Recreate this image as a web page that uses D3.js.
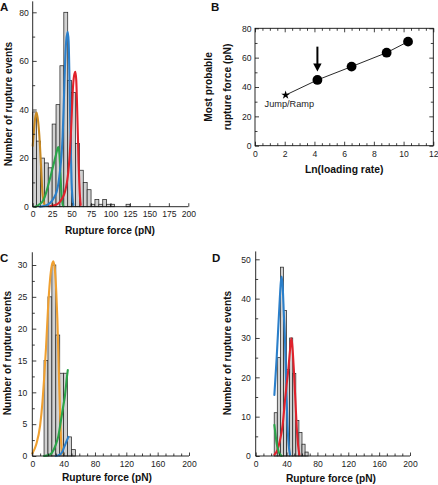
<!DOCTYPE html>
<html><head><meta charset="utf-8">
<script src="https://cdn.jsdelivr.net/npm/d3@7"></script>
<style>
body{margin:0;background:#fff}
svg{display:block}
text{font-family:"Liberation Sans",Arial,Helvetica,sans-serif}
</style>
</head><body>
<svg id="chart" width="438" height="485"></svg>
<script>
// ---------------- DATA ----------------
// Panel A histogram (5 pN bins starting at 0)
const histAStart = 0, histABin = 5;
const histA = [39, 27, 20, 18, 16, 34, 42, 58, 80, 52, 47, 26, 15, 10, 7, 1, 3, 1, 3, 1, 1, 0, 0, 0, 1];
// Panel A fitted curves [force pN, events]
const curveAOrange = [[0,25],[1.5,31],[3,36],[5,38.7],[7,35],[9,27],[10.5,18],[11.5,11.5],[12.5,6],[13.7,2.7],[15,1],[16,0.3]];
const curveAGreen = [[3,0],[8,0.8],[13.7,2.7],[17,5.5],[20,8.9],[23,12.5],[26.5,17],[30,21.5],[33,24.5],[34.5,21],[35.5,15],[36.5,8],[37.5,3.5],[38.5,1],[39.5,0.2]];
const curveABlue = [[9.4,0],[16,0.4],[22,1.4],[27,3.5],[30.8,6.2],[33,9.5],[35,14.4],[37,21],[38.5,29],[40.2,45],[41.5,58],[43,68],[45,72],[46.2,68],[47.3,52],[48.3,34],[49.1,22],[50,10],[51,4],[52.2,0.7]];
const curveARed = [[22,0.2],[30,0.8],[35,2],[38.5,3.8],[41.5,6.2],[44,10],[45.8,14.4],[47.5,21],[48.8,28],[50.2,38],[51.4,47],[53,53.5],[54.8,55.5],[56,52],[57,42],[58.2,28],[59,18],[59.9,10],[61,3],[61.7,0.7]];

// Panel B: most probable rupture force vs ln(loading rate)
const bStar = [2.06, 34.5];               // Jump/Ramp point
const bLnRate = [4.2, 6.5, 8.86, 10.3];
const bForce = [44.8, 53.9, 63.4, 70.9];
const bArrow = {x: 4.2, from: 67.5, to: 50.5};
const bStarLabel = "Jump/Ramp";

// Panel C histogram (5 pN bins starting at 15)
const histCStart = 15, histCBin = 5;
const histC = [15, 25, 30, 19, 13, 13, 3, 1];
const curveCOrange = [[0,0.4],[5,1.8],[10,4.8],[13,8.5],[15,12],[17.5,17],[20,23],[22.5,27.5],[25,30],[27,30.6],[29,29],[30.5,26],[32,21.5],[33.5,15],[34.5,10.5],[35.5,6.5],[36.5,3],[37.5,1.2],[38.5,0.4]];
const curveCGreen = [[15,0],[20,0.1],[25,0.5],[30,1.8],[33,3],[35.3,4.6],[38,6.7],[40,8.2],[41.7,9.5],[43,11],[44,12.2],[45.3,13.5]];
const curveCBlue = [[30,0],[35,0.2],[38,0.6],[41,1.5],[43,2.1],[45,2.7],[46,3]];

// Panel D histogram (4 pN bins starting at 24)
const histDStart = 24, histDBin = 4;
const histD = [11, 25, 48, 37, 22, 30, 21, 9, 6, 3, 1];
const curveDBlue = [[24.2,15.5],[27.2,25],[30.7,38],[32.5,44],[33.7,45.6],[35,43],[36.5,36],[38,29.5],[39,22],[40.2,14.2],[41.2,8],[42.3,4],[43.5,1.5],[44.5,0.3]];
const curveDRed = [[24.2,0.3],[28,1.5],[31.5,4],[35,8],[38,14.2],[40,18],[42.3,22],[44.5,27],[46.2,29.9],[47.5,28],[49.7,21],[51.5,14],[53.1,7.5],[54.8,3],[56.6,0.3]];
const curveDGreen = [[24.2,7.9],[25.5,5.8],[27.2,3.2],[29,1.6],[30.7,0.7],[33.7,0]];

// Tick values
const ticksAX = [0,25,50,75,100,125,150,175,200];
const ticksAY = [0,20,40,60,80], minorAY = [10,30,50,70];
const ticksCX = [0,40,80,120,160,200], minorCX = d3.range(10,200,10).filter(d=>d%40);
const ticksCY = [0,5,10,15,20,25,30], minorCY = [2.5,7.5,12.5,17.5,22.5,27.5];
const ticksDY = [0,10,20,30,40,50], minorDY = [5,15,25,35,45];
const ticksBX = [0,2,4,6,8,10,12], minorBX = d3.range(0.5,12,0.5).filter(d=>d%2);
const ticksBY = [0,20,40,60,80], minorBY = [10,30,50,70];

const xTitle = "Rupture force (pN)", yTitle = "Number of rupture events";

// ---------------- DRAW ----------------
const svg = d3.select("#chart");
const FONT = '"Liberation Sans",Arial,Helvetica,sans-serif';
const colors = {orangeA:"#c98a22", orange:"#f0a030", green:"#2ba44a", blue:"#2b7fca", red:"#e0222c"};

function styleAxis(g, size){
  g.select(".domain").remove();
  g.selectAll("text").attr("font-family", FONT).attr("font-size", size).attr("fill","#222");
  g.selectAll("line").attr("stroke","#111").attr("stroke-width",0.8);
}

function histPanel(o){
  const x = d3.scaleLinear().domain([0,200]).range([o.x0,o.x1]);
  const y = d3.scaleLinear().domain([0,o.ymaxLabel]).range([o.y0,o.yTop]);
  const g = svg.append("g");
  // bars
  g.selectAll("rect").data(o.hist.map((v,i)=>({a:o.start+i*o.bin,b:o.start+(i+1)*o.bin,v})).filter(d=>d.v>0))
   .enter().append("rect")
   .attr("x",d=>x(d.a)).attr("width",d=>x(d.b)-x(d.a))
   .attr("y",d=>y(d.v)).attr("height",d=>y(0)-y(d.v))
   .attr("fill","#d2d2d2").attr("stroke","#262626").attr("stroke-width",0.75);
  // curves
  const line = d3.line().x(d=>x(d[0])).y(d=>y(d[1])).curve(d3.curveMonotoneX);
  o.curves.forEach(c=>{
    g.append("path").attr("d",line(c.pts)).attr("fill","none").attr("stroke",c.color)
     .attr("stroke-width",2.1).attr("stroke-linecap","round").attr("stroke-linejoin","round");
  });
  // axes lines
  g.append("line").attr("x1",x(0)).attr("x2",x(0)).attr("y1",y(0)).attr("y2",y(o.yAxisTop)).attr("stroke","#111").attr("stroke-width",0.9);
  g.append("line").attr("x1",x(0)).attr("x2",x(200)).attr("y1",y(0)).attr("y2",y(0)).attr("stroke","#111").attr("stroke-width",0.9);
  // y axis
  const ya = g.append("g").attr("transform",`translate(${x(0)},0)`)
    .call(d3.axisLeft(y).tickValues(o.yTicks).tickSize(-4).tickPadding(o.yPad).tickFormat(d3.format("d")));
  styleAxis(ya, 8.6);
  const ym = g.append("g").attr("transform",`translate(${x(0)},0)`)
    .call(d3.axisLeft(y).tickValues(o.yMinor).tickSize(-2.5).tickFormat(""));
  styleAxis(ym, 8.6);
  // x axis
  const xa = g.append("g").attr("transform",`translate(0,${y(0)})`)
    .call(d3.axisBottom(x).tickValues(o.xTicks).tickSize(-3.5).tickPadding(o.xPad).tickFormat(d3.format("d")));
  styleAxis(xa, 8.6);
  if(o.xMinor){
    const xm = g.append("g").attr("transform",`translate(0,${y(0)})`)
      .call(d3.axisBottom(x).tickValues(o.xMinor).tickSize(-2.5).tickFormat(""));
    styleAxis(xm, 8.6);
  }
  // titles
  g.append("text").attr("x",o.xTitleX).attr("y",o.xTitleY).attr("text-anchor","middle")
   .attr("font-size",10.2).attr("font-weight","bold").attr("fill","#111").text(xTitle);
  g.append("text").attr("transform",`translate(${o.yTitleX},${o.yTitleY}) rotate(-90)`).attr("text-anchor","middle")
   .attr("font-size",10.2).attr("font-weight","bold").attr("fill","#111").text(yTitle);
  g.append("text").attr("x",o.labelX).attr("y",o.labelY).attr("font-size",11.5).attr("font-weight","bold").attr("fill","#111").text(o.label);
}

// Panel A
histPanel({x0:32.7,x1:188.3,y0:206.7,yTop:12.3,ymaxLabel:80,yAxisTop:84.5,
  hist:histA,start:histAStart,bin:histABin,
  curves:[{pts:curveAOrange,color:colors.orangeA},{pts:curveAGreen,color:colors.green},{pts:curveABlue,color:colors.blue},{pts:curveARed,color:colors.red}],
  yTicks:ticksAY,yMinor:minorAY,yPad:4,xTicks:ticksAX,xMinor:null,xPad:4.5,
  xTitleX:110,xTitleY:234,yTitleX:11.5,yTitleY:104,label:"A",labelX:0,labelY:11});

// Panel C
histPanel({x0:32.3,x1:189,y0:456,yTop:265,ymaxLabel:30,yAxisTop:32,
  hist:histC,start:histCStart,bin:histCBin,
  curves:[{pts:curveCOrange,color:colors.orange},{pts:curveCGreen,color:colors.green},{pts:curveCBlue,color:colors.blue}],
  yTicks:ticksCY,yMinor:minorCY,yPad:5,xTicks:ticksCX,xMinor:minorCX,xPad:5,
  xTitleX:107,xTitleY:481,yTitleX:10.5,yTitleY:353,label:"C",labelX:0,labelY:262});

// Panel D
histPanel({x0:255.7,x1:410,y0:456,yTop:259.3,ymaxLabel:50,yAxisTop:52,
  hist:histD,start:histDStart,bin:histDBin,
  curves:[{pts:curveDBlue,color:colors.blue},{pts:curveDRed,color:colors.red},{pts:curveDGreen,color:colors.green}],
  yTicks:ticksDY,yMinor:minorDY,yPad:5,xTicks:ticksCX,xMinor:minorCX,xPad:5,
  xTitleX:331,xTitleY:482,yTitleX:231,yTitleY:353,label:"D",labelX:212,labelY:262});

// Panel B
(function(){
  const x = d3.scaleLinear().domain([0,12]).range([255,433.3]);
  const y = d3.scaleLinear().domain([0,80]).range([145.7,28.3]);
  const g = svg.append("g");
  g.append("rect").attr("x",x(0)).attr("y",y(80)).attr("width",x(12)-x(0)).attr("height",y(0)-y(80))
   .attr("fill","none").attr("stroke","#111").attr("stroke-width",0.9);
  const mk = (gen, vals, size, fmt, tr, pad) => {
    const a = g.append("g").attr("transform",tr).call(gen.tickValues(vals).tickSize(size).tickPadding(pad||3).tickFormat(fmt));
    styleAxis(a, 8.6);
  };
  mk(d3.axisBottom(x), ticksBX, -4, d3.format("d"), `translate(0,${y(0)})`, 5);
  mk(d3.axisBottom(x), minorBX, -2.5, "", `translate(0,${y(0)})`);
  mk(d3.axisTop(x), ticksBX, -4, "", `translate(0,${y(80)})`);
  mk(d3.axisTop(x), minorBX, -2.5, "", `translate(0,${y(80)})`);
  mk(d3.axisLeft(y), ticksBY, -4, d3.format("d"), `translate(${x(0)},0)`, 3.5);
  mk(d3.axisLeft(y), minorBY, -2.5, "", `translate(${x(0)},0)`);
  mk(d3.axisRight(y), ticksBY, -4, "", `translate(${x(12)},0)`);
  mk(d3.axisRight(y), minorBY, -2.5, "", `translate(${x(12)},0)`);

  const pts = [bStar].concat(bLnRate.map((d,i)=>[d,bForce[i]]));
  g.append("path").attr("d",d3.line().x(d=>x(d[0])).y(d=>y(d[1]))(pts)).attr("fill","none").attr("stroke","#111").attr("stroke-width",0.9);
  g.selectAll("circle").data(bLnRate.map((d,i)=>[d,bForce[i]])).enter().append("circle")
   .attr("cx",d=>x(d[0])).attr("cy",d=>y(d[1])).attr("r",4.9).attr("fill","#000");
  g.append("path").attr("d",d3.symbol(d3.symbolStar).size(24)())
   .attr("transform",`translate(${x(bStar[0])},${y(bStar[1])})`).attr("fill","#000");
  g.append("text").attr("x",x(bStar[0])-21).attr("y",y(bStar[1])+11.5).attr("font-size",9.2).attr("fill","#222").text(bStarLabel);
  // arrow
  const ax = x(bArrow.x), ya0 = y(bArrow.from), ya1 = y(bArrow.to);
  g.append("line").attr("x1",ax).attr("x2",ax).attr("y1",ya0).attr("y2",ya1-6).attr("stroke","#000").attr("stroke-width",2);
  g.append("path").attr("d",`M${ax-4.2},${ya1-8} L${ax+4.2},${ya1-8} L${ax},${ya1} Z`).attr("fill","#000");
  // titles
  g.append("text").attr("x",(x(0)+x(12))/2).attr("y",173).attr("text-anchor","middle")
   .attr("font-size",10.4).attr("font-weight","bold").attr("fill","#111").text("Ln(loading rate)");
  g.append("text").attr("transform",`translate(212,87) rotate(-90)`).attr("text-anchor","middle")
   .attr("font-size",10.2).attr("font-weight","bold").attr("fill","#111").text("Most probable");
  g.append("text").attr("transform",`translate(231,87) rotate(-90)`).attr("text-anchor","middle")
   .attr("font-size",10.2).attr("font-weight","bold").attr("fill","#111").text("rupture force (pN)");
  g.append("text").attr("x",211).attr("y",11).attr("font-size",11.5).attr("font-weight","bold").attr("fill","#111").text("B");
})();
</script>
</body></html>
